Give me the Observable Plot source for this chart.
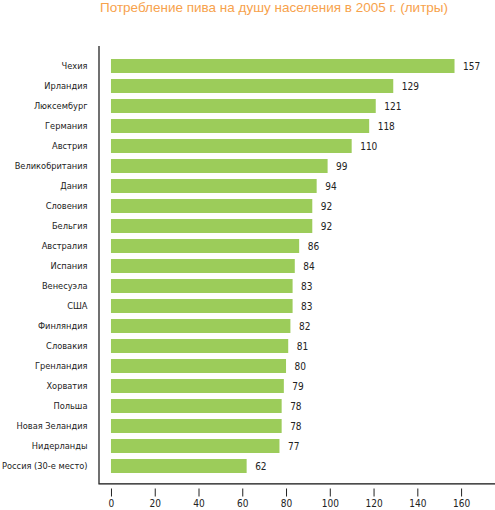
<!DOCTYPE html>
<html>
<head>
<meta charset="utf-8">
<script src="https://cdn.jsdelivr.net/npm/d3@7"></script>
<script src="https://cdn.jsdelivr.net/npm/@observablehq/plot@0.6"></script>
<style>
  body { margin: 0; background: #fff; }
  #title {
    height: 20px;
    font: 13.5px "Liberation Sans", Arial, sans-serif;
    color: #f7a24c;
    padding-left: 100px;
    line-height: 16px;
    white-space: nowrap;
  }
  svg { display: block; }
</style>
</head>
<body>
<div id="title">Потребление пива на душу населения в 2005 г. (литры)</div>
<div id="chart"></div>
<script>
// countries, top to bottom
const countries = [
  "Чехия", "Ирландия", "Люксембург", "Германия", "Австрия",
  "Великобритания", "Дания", "Словения", "Бельгия", "Австралия",
  "Испания", "Венесуэла", "США", "Финляндия", "Словакия",
  "Гренландия", "Хорватия", "Польша", "Новая Зеландия", "Нидерланды",
  "Россия (30-е место)"
];
// litres per person
const litres = [157, 129, 121, 118, 110, 99, 94, 92, 92, 86, 84, 83, 83, 82, 81, 80, 79, 78, 78, 77, 62];
const xTicks = [0, 20, 40, 60, 80, 100, 120, 140, 160];

const rows = countries.map((c, i) => ({country: c, value: litres[i]}));
const xMin = -5.7;
const xMax = 175.5;

const font = "'DejaVu Sans Condensed', 'DejaVu Sans', sans-serif";

const chart = Plot.plot({
  width: 495,
  height: 490,
  marginLeft: 98.5,
  marginRight: 0,
  marginTop: 31.5,
  marginBottom: 28.5,
  style: {fontFamily: font, fontSize: "10px", color: "#222"},
  x: {domain: [xMin, xMax], axis: null},
  y: {domain: countries, padding: 0.287, axis: null},
  marks: [
    Plot.barX(rows, {x: "value", y: "country", fill: "#9ccc5a"}),
    Plot.text(rows, {
      x: "value", y: "country", text: (d) => String(d.value),
      textAnchor: "start", dx: 8, fill: "#222", fontSize: 10
    }),
    Plot.axisY({tickSize: 0, tickPadding: 11.5, fontSize: 9.2, label: null}),
    Plot.axisX(xTicks, {
      anchor: "bottom", tickSize: 8, tickPadding: 3, dy: 7,
      fontSize: 10, label: null
    }),
    Plot.ruleX([xMin], {stroke: "#111", strokeWidth: 1.2, insetTop: -5.5, insetBottom: -2}),
    Plot.frame({anchor: "bottom", stroke: "#111", strokeWidth: 1.2, dy: 1.8})
  ]
});
document.querySelector("#chart").append(chart);
</script>
</body>
</html>
